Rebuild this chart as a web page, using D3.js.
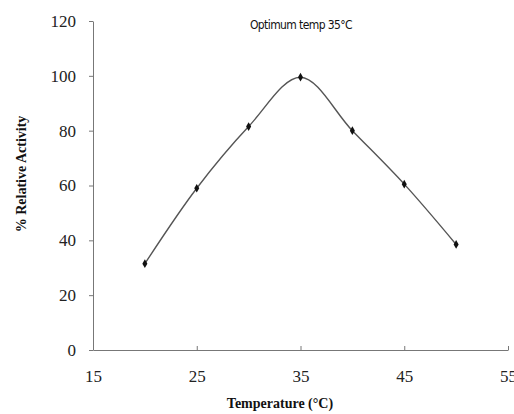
<!DOCTYPE html>
<html>
<head>
<meta charset="utf-8">
<script src="https://cdn.jsdelivr.net/npm/d3@7"></script>
<style>
body { margin: 0; background: #fff; }
</style>
</head>
<body>
<script>
// temperature (C) vs % relative activity
var temps = [20, 25, 30, 35, 40, 45, 50];
var activity = [31.5, 59, 81.5, 99.5, 80, 60.5, 38.5];
var xTicks = [15, 25, 35, 45, 55];
var yTicks = [0, 20, 40, 60, 80, 100, 120];

var width = 514, height = 414;
var svg = d3.select("body").append("svg")
    .attr("width", width)
    .attr("height", height);

var x = d3.scaleLinear().domain([15, 55]).range([93, 508]);
var y = d3.scaleLinear().domain([0, 120]).range([350, 21]);

// y axis
var yAxis = svg.append("g")
    .attr("transform", "translate(93,0)")
    .call(d3.axisLeft(y).tickValues(yTicks).tickSize(4).tickSizeOuter(0).tickPadding(13));
yAxis.select(".domain").attr("stroke", "#777");
yAxis.selectAll(".tick line").attr("stroke", "#777");
yAxis.selectAll("text")
    .attr("font-family", "Liberation Serif, serif")
    .attr("font-size", 17)
    .attr("fill", "#222");

// x axis, ticks point up into the plot
var xAxis = svg.append("g")
    .attr("transform", "translate(0,350)")
    .call(d3.axisBottom(x).tickValues(xTicks).tickSize(-4).tickSizeOuter(0).tickPadding(20));
xAxis.select(".domain").attr("stroke", "#777");
xAxis.selectAll(".tick line").attr("stroke", "#777");
xAxis.selectAll("text")
    .attr("font-family", "Liberation Serif, serif")
    .attr("font-size", 17)
    .attr("fill", "#222");

var pts = temps.map(function(t, i) { return [t, activity[i]]; });

var line = d3.line()
    .x(function(d) { return x(d[0]); })
    .y(function(d) { return y(d[1]); })
    .curve(d3.curveCatmullRom.alpha(0.5));

svg.append("path")
    .datum(pts)
    .attr("d", line)
    .attr("fill", "none")
    .attr("stroke", "#555")
    .attr("stroke-width", 1.4);

svg.selectAll(".pt")
    .data(pts)
    .enter().append("path")
    .attr("class", "pt")
    .attr("transform", function(d) { return "translate(" + x(d[0]) + "," + y(d[1]) + ")"; })
    .attr("d", d3.symbol().type(d3.symbolDiamond).size(22))
    .attr("fill", "#111");

// annotation
svg.append("text")
    .attr("x", 301)
    .attr("y", 29)
    .attr("text-anchor", "middle")
    .attr("font-family", "DejaVu Sans Condensed, DejaVu Sans, sans-serif")
    .attr("font-size", 12)
    .attr("letter-spacing", -0.6)
    .attr("fill", "#111")
    .text("Optimum temp 35°C");

// axis titles
svg.append("text")
    .attr("x", 280)
    .attr("y", 408)
    .attr("text-anchor", "middle")
    .attr("font-family", "Liberation Serif, serif")
    .attr("font-weight", "bold")
    .attr("font-size", 14)
    .attr("fill", "#111")
    .text("Temperature (°C)");

svg.append("text")
    .attr("transform", "translate(26,174) rotate(-90)")
    .attr("text-anchor", "middle")
    .attr("font-family", "Liberation Serif, serif")
    .attr("font-weight", "bold")
    .attr("font-size", 14)
    .attr("fill", "#111")
    .text("% Relative Activity");
</script>
</body>
</html>
